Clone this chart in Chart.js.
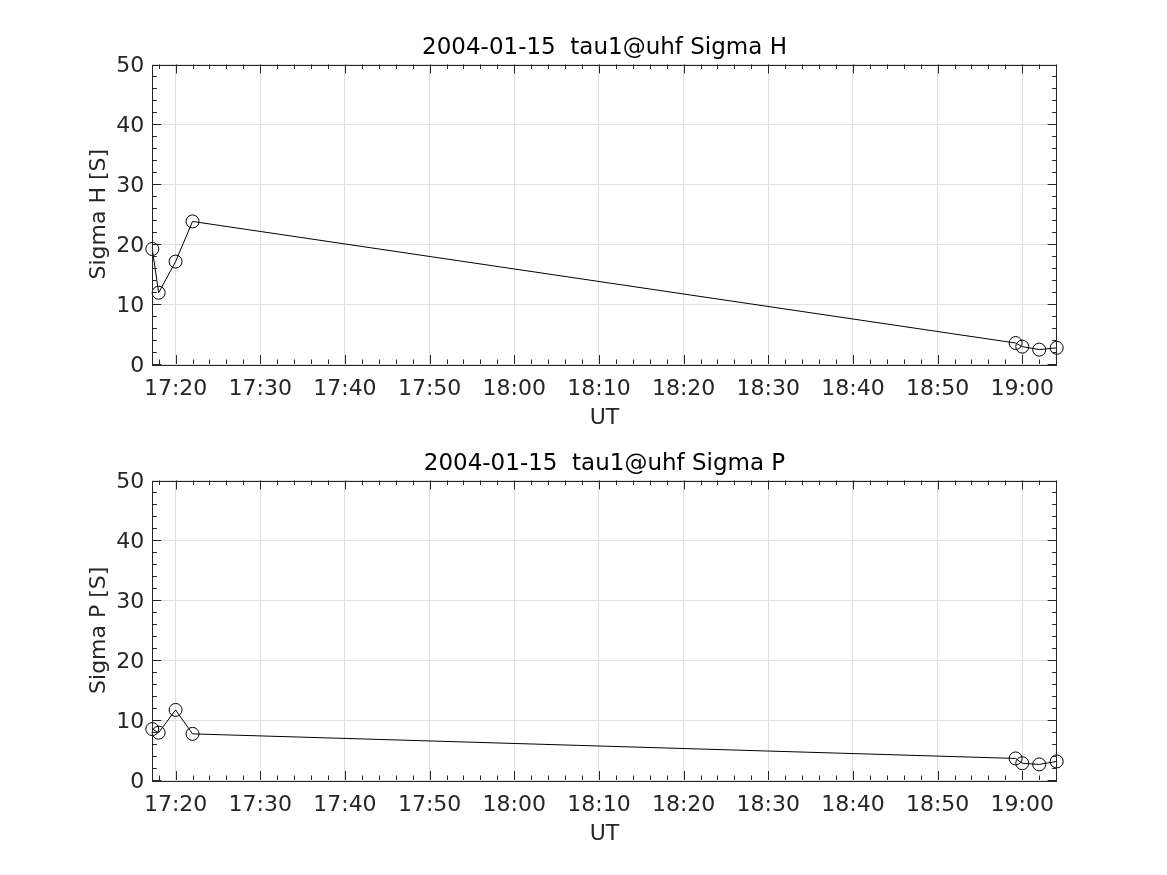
<!DOCTYPE html>
<html>
<head>
<meta charset="utf-8">
<script src="https://cdn.jsdelivr.net/npm/chart.js@4.4.0/dist/chart.umd.min.js"></script>
<style>
  body { margin: 0; background: #fff; }
  #wrap { position: relative; width: 1167px; height: 875px; }
  canvas { position: absolute; left: 0; }
</style>
</head>
<body>
<div id="wrap">
  <canvas id="c1" width="1167" height="437" style="top:0px"></canvas>
  <canvas id="c2" width="1167" height="438" style="top:437px"></canvas>
</div>
<script>
// sample times (UT) and conductances
const times = ['17:17:15', '17:18:00', '17:20:00', '17:22:00', '18:59:13', '19:00:00', '19:02:00', '19:04:04'];
const sigmaH = [19.2, 11.9, 17.1, 23.8, 3.5, 2.9, 2.4, 2.7];
const sigmaP = [8.5, 7.9, 11.7, 7.7, 3.6, 2.8, 2.6, 3.1];
const xTickLabels = ['17:20', '17:30', '17:40', '17:50', '18:00', '18:10', '18:20', '18:30', '18:40', '18:50', '19:00'];
const yTicks = [0, 10, 20, 30, 40, 50];

const FONT = '"DejaVu Sans", sans-serif';
const TXT = '#262626';

function toMin(t) {
  const p = t.split(':').map(Number);
  return p[0] * 60 + p[1] + (p[2] || 0) / 60;
}
function fmt(v) {
  const h = Math.floor(v / 60), m = Math.round(v - h * 60);
  return h + ':' + String(m).padStart(2, '0');
}

const framePlugin = {
  id: 'frame',
  afterDraw(chart, args, opts) {
    const ctx = chart.ctx, a = chart.chartArea;
    const xs = chart.scales.x, ys = chart.scales.y;
    ctx.save();
    ctx.strokeStyle = TXT;
    ctx.lineWidth = 1;
    ctx.beginPath();
    // minor + major ticks, pointing inward, on all four sides
    for (let m = Math.ceil(xs.min / 2) * 2; m <= xs.max; m += 2) {
      const px = Math.round(xs.getPixelForValue(m)) + 0.5;
      const len = (m % 10 === 0) ? 9 : 4.5;
      ctx.moveTo(px, a.bottom); ctx.lineTo(px, a.bottom - len);
      ctx.moveTo(px, a.top); ctx.lineTo(px, a.top + len);
    }
    for (let v = 0; v <= 50; v += 2) {
      const py = Math.round(ys.getPixelForValue(v)) + 0.5;
      const len = (v % 10 === 0) ? 9 : 4.5;
      ctx.moveTo(a.left, py); ctx.lineTo(a.left + len, py);
      ctx.moveTo(a.right, py); ctx.lineTo(a.right - len, py);
    }
    ctx.stroke();
    ctx.strokeRect(Math.round(a.left) + 0.5, Math.round(a.top) + 0.5,
      Math.round(a.right - a.left), Math.round(a.bottom - a.top));

    // title
    ctx.fillStyle = '#000';
    ctx.font = '23px ' + FONT;
    ctx.textAlign = 'center';
    ctx.textBaseline = 'alphabetic';
    ctx.fillText(opts.title, (a.left + a.right) / 2, a.top - 11);

    // axis labels
    ctx.fillStyle = TXT;
    ctx.font = '22px ' + FONT;
    ctx.fillText('UT', (a.left + a.right) / 2, a.bottom + 60);
    ctx.translate(a.left - 47, (a.top + a.bottom) / 2);
    ctx.rotate(-Math.PI / 2);
    ctx.fillText(opts.ylabel, 0, 0);
    ctx.restore();
  }
};

function makeChart(id, values, title, ylabel, top, canvasH) {
  const plotH = 299.5;
  const axisW = 60, axisH = 60;
  return new Chart(document.getElementById(id), {
    type: 'line',
    data: {
      datasets: [{
        data: times.map((t, i) => ({ x: toMin(t), y: values[i] })),
        borderColor: '#000',
        borderWidth: 1,
        pointRadius: 6.5,
        pointHoverRadius: 6.5,
        pointBorderColor: '#000',
        pointBorderWidth: 1,
        pointBackgroundColor: 'rgba(0,0,0,0)',
        tension: 0,
        clip: false
      }]
    },
    options: {
      responsive: false,
      animation: false,
      events: [],
      layout: {
        padding: {
          left: 152.3 - axisW,
          right: 1167 - 1056.7,
          top: top,
          bottom: canvasH - top - plotH - axisH
        }
      },
      plugins: {
        legend: { display: false },
        tooltip: { enabled: false },
        frame: { title: title, ylabel: ylabel }
      },
      scales: {
        x: {
          type: 'linear',
          min: toMin(times[0]),
          max: toMin(times[times.length - 1]),
          afterBuildTicks: s => { s.ticks = xTickLabels.map(l => ({ value: toMin(l) })); },
          afterFit: s => { s.height = axisH; },
          grid: { color: '#dfdfdf', drawTicks: false },
          border: { display: false },
          ticks: {
            autoSkip: false, maxRotation: 0, padding: 12,
            color: TXT, font: { family: FONT, size: 22 },
            callback: v => fmt(v)
          }
        },
        y: {
          min: 0, max: 50,
          afterBuildTicks: s => { s.ticks = yTicks.map(v => ({ value: v })); },
          afterFit: s => { s.width = axisW; },
          grid: { color: '#dfdfdf', drawTicks: false },
          border: { display: false },
          ticks: {
            padding: 8, labelOffset: 2,
            color: TXT, font: { family: FONT, size: 22 }
          }
        }
      }
    },
    plugins: [framePlugin]
  });
}

makeChart('c1', sigmaH, '2004-01-15  tau1@uhf Sigma H', 'Sigma H [S]', 64.5, 437);
makeChart('c2', sigmaP, '2004-01-15  tau1@uhf Sigma P', 'Sigma P [S]', 43.5, 438);
</script>
</body>
</html>
